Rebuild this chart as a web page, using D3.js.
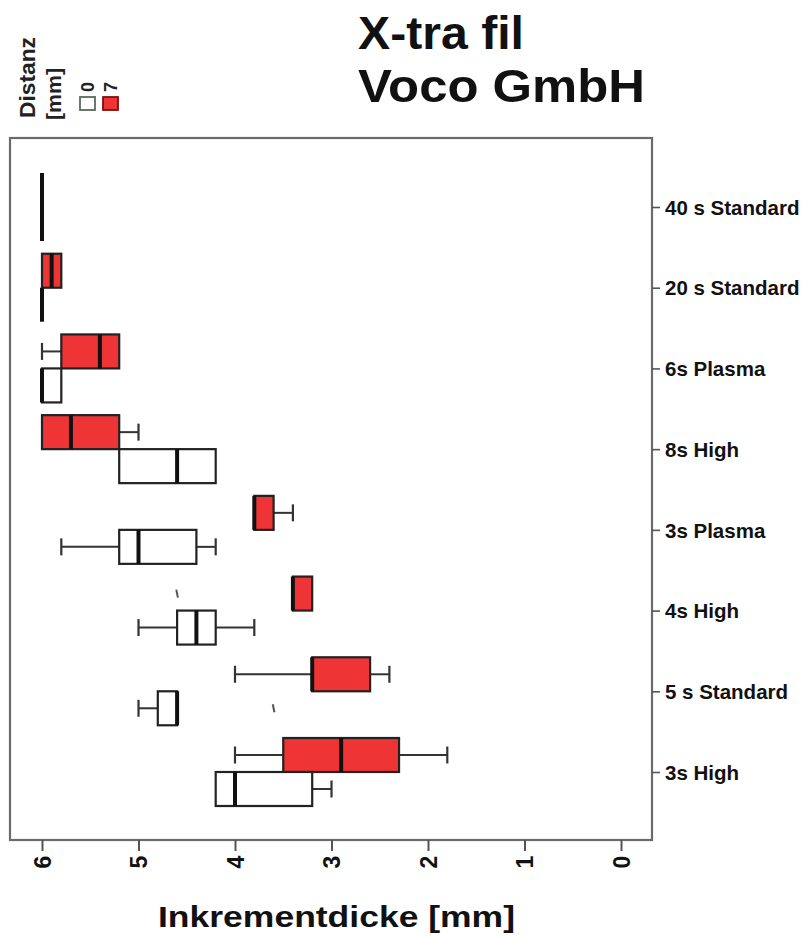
<!DOCTYPE html>
<html><head><meta charset="utf-8">
<script src="https://cdn.jsdelivr.net/npm/d3@7"></script>
<style>body{margin:0;background:#fff;} svg{display:block;}</style>
</head><body>
<script>
// ---- data ----
const categories = ["40 s Standard","20 s Standard","6s Plasma","8s High","3s Plasma","4s High","5 s Standard","3s High"];
// [min, q1, median, q3, max] per category, distance 0 mm (white)
const dist0 = [
  [6.0,6.0,6.0,6.0,6.0],
  [6.0,6.0,6.0,6.0,6.0],
  [5.8,5.8,6.0,6.0,6.0],
  [4.2,4.2,4.6,5.2,5.2],
  [4.2,4.4,5.0,5.2,5.8],
  [3.8,4.2,4.4,4.6,5.0],
  [4.6,4.6,4.6,4.8,5.0],
  [3.0,3.2,4.0,4.2,4.2]
];
// distance 7 mm (red)
const dist7 = [
  [6.0,6.0,6.0,6.0,6.0],
  [5.8,5.8,5.9,6.0,6.0],
  [5.2,5.2,5.4,5.8,6.0],
  [5.0,5.2,5.7,6.0,6.0],
  [3.4,3.6,3.8,3.8,3.8],
  [3.2,3.2,3.4,3.4,3.4],
  [2.4,2.6,3.2,3.2,4.0],
  [1.8,2.3,2.9,3.5,4.0]
];
const outliers0 = [[], [], [], [], [], [], [3.6], []];
const outliers7 = [[], [], [], [], [], [4.6], [], []];
const xTicks = [6,5,4,3,2,1,0];
const legendLabels = ["0","7"];

// ---- layout ----
const W = 809, H = 939;
const frame = {left:10, right:652, top:138, bottom:840};
const svg = d3.select("body").append("svg").attr("width",W).attr("height",H);
const font = "'Liberation Sans', Arial, Helvetica, sans-serif";

const x = d3.scaleLinear().domain([6,0]).range([42,621]);
const y = d3.scalePoint().domain(categories).range([207,772]);
const bh = 34;
const RED = "#ee3434";

// frame
svg.append("rect").attr("x",frame.left).attr("y",frame.top)
  .attr("width",frame.right-frame.left).attr("height",frame.bottom-frame.top)
  .attr("fill","none").attr("stroke","#6b6b6b").attr("stroke-width",2.2);

// bottom axis
const xAxis = svg.append("g").attr("transform",`translate(0,${frame.bottom})`)
  .call(d3.axisBottom(x).tickValues(xTicks).tickSize(11).tickFormat(d3.format("d")));
xAxis.select(".domain").remove();
xAxis.selectAll(".tick line").attr("stroke","#555").attr("stroke-width",2);
xAxis.selectAll(".tick text")
  .attr("font-family",font).attr("font-weight","bold").attr("font-size",23).attr("fill","#111")
  .attr("text-anchor","middle").attr("dominant-baseline","central")
  .attr("transform","translate(0,22) rotate(-90)").attr("x",0).attr("y",0).attr("dy",null);

// right axis
const yAxis = svg.append("g").attr("transform",`translate(${frame.right},0)`)
  .call(d3.axisRight(y).tickSize(8).tickPadding(5));
yAxis.select(".domain").remove();
yAxis.selectAll(".tick line").attr("stroke","#555").attr("stroke-width",1.6);
yAxis.selectAll(".tick text")
  .attr("font-family",font).attr("font-weight","bold").attr("font-size",20.5).attr("fill","#111")
  .attr("dy","0.35em");

// boxes
function drawBoxes(data, outl, fill, offset){
  const g = svg.append("g");
  data.forEach((d,i)=>{
    const [mn,q1,md,q3,mx] = d;
    const y0 = y(categories[i]) + offset;
    const cy = y0 + bh/2;
    const gg = g.append("g");
    const cap = bh/2;
    if (mx > q3) {
      gg.append("line").attr("x1",x(q3)).attr("x2",x(mx)).attr("y1",cy).attr("y2",cy).attr("stroke","#333").attr("stroke-width",2);
      gg.append("line").attr("x1",x(mx)).attr("x2",x(mx)).attr("y1",cy-cap/2).attr("y2",cy+cap/2).attr("stroke","#333").attr("stroke-width",2.2);
    }
    if (mn < q1) {
      gg.append("line").attr("x1",x(q1)).attr("x2",x(mn)).attr("y1",cy).attr("y2",cy).attr("stroke","#333").attr("stroke-width",2);
      gg.append("line").attr("x1",x(mn)).attr("x2",x(mn)).attr("y1",cy-cap/2).attr("y2",cy+cap/2).attr("stroke","#333").attr("stroke-width",2.2);
    }
    gg.append("rect").attr("x",x(q3)).attr("y",y0).attr("width",Math.max(0,x(q1)-x(q3))).attr("height",bh)
      .attr("fill",fill).attr("stroke","#222").attr("stroke-width",2.2);
    gg.append("line").attr("x1",x(md)).attr("x2",x(md)).attr("y1",y0).attr("y2",y0+bh)
      .attr("stroke","#111").attr("stroke-width",4);
    outl[i].forEach(o=>{
      gg.append("line").attr("x1",x(o)-0.8).attr("x2",x(o)+0.8).attr("y1",cy-4).attr("y2",cy+4)
        .attr("stroke","#555").attr("stroke-width",2);
    });
  });
}
drawBoxes(dist7, outliers7, RED, -bh);
drawBoxes(dist0, outliers0, "#fff", 0);

// title
svg.append("text").attr("x",358).attr("y",49).text("X-tra fil")
  .attr("font-family",font).attr("font-weight","bold").attr("font-size",47).attr("fill","#111")
  .attr("textLength",166).attr("lengthAdjust","spacingAndGlyphs");
svg.append("text").attr("x",358).attr("y",102).text("Voco GmbH")
  .attr("font-family",font).attr("font-weight","bold").attr("font-size",47).attr("fill","#111")
  .attr("textLength",287).attr("lengthAdjust","spacingAndGlyphs");

// x title
svg.append("text").attr("x",158).attr("y",927).text("Inkrementdicke [mm]")
  .attr("font-family",font).attr("font-weight","bold").attr("font-size",29).attr("fill","#111")
  .attr("textLength",357).attr("lengthAdjust","spacingAndGlyphs");

// legend
const lg = svg.append("g");
lg.append("text").attr("transform","translate(35,118) rotate(-90)").text("Distanz")
  .attr("font-family",font).attr("font-weight","bold").attr("font-size",22).attr("fill","#222")
  .attr("textLength",81).attr("lengthAdjust","spacingAndGlyphs");
lg.append("text").attr("transform","translate(61,120) rotate(-90)").text("[mm]")
  .attr("font-family",font).attr("font-weight","bold").attr("font-size",21).attr("fill","#222")
  .attr("textLength",52).attr("lengthAdjust","spacingAndGlyphs");
const legendFill = ["#fff", RED];
const legendX = [80, 103];
legendLabels.forEach((l,i)=>{
  lg.append("rect").attr("x",legendX[i]).attr("y",97).attr("width",15).attr("height",13)
    .attr("fill",legendFill[i]).attr("stroke", i===0 ? "#5a6a5a" : "#7a1010").attr("stroke-width",1.8);
  lg.append("text").attr("transform",`translate(${legendX[i]+14},92) rotate(-90)`).text(l)
    .attr("font-family",font).attr("font-weight","bold").attr("font-size",18).attr("fill","#222");
});
</script>
</body></html>
